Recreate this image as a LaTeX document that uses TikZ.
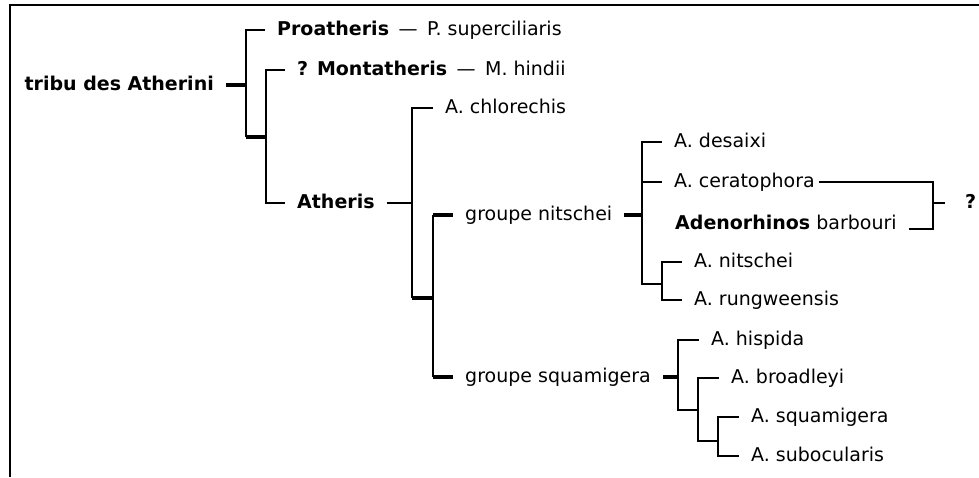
\documentclass[tikz,border=0pt]{standalone}
\usepackage{fontspec}
\setsansfont{DejaVu Sans}
\usetikzlibrary{positioning}

\begin{document}
\begin{tikzpicture}[
    x=1pt, y=-1pt,
    font=\sffamily\fontsize{19}{23}\selectfont,
    frameline/.style={draw=black, line width=2pt},
    branch/.style={draw=black, line width=1.5pt},
    stem/.style={draw=black, line width=4pt},
    taxon/.style={anchor=west, inner xsep=12pt, inner ysep=0pt, text height=13.9pt, text depth=3.8pt},
    genus/.style={taxon, font=\sffamily\bfseries\fontsize{19}{23}\selectfont}
]
    \useasboundingbox (0,0) rectangle (979,477);
    \draw[frameline] (10,477) -- (10,5) -- (979,5);

    % =========================================================================
    % ROOT: TRIBU DES ATHERINI
    % =========================================================================
    \node[genus, anchor=east] (tribu) at (226,85) {tribu des Atherini};
    \coordinate (root) at (246,85);
    \coordinate (rootlow) at (246,137);
    \coordinate (pair) at (266,137);

    \node[taxon] (proa) at (265,30) {\textbf{Proatheris}\enskip—\enskip P. superciliaris};
    \node[taxon] (mont) at (285,70) {\textbf{? Montatheris}\enskip—\enskip M. hindii};
    \node[genus] (athe) at (285,203) {Atheris};

    \draw[stem] (tribu.east) -- (root);
    \draw[branch] (root) |- (proa.west);
    \draw[branch] (root) -- (rootlow);
    \draw[stem] (rootlow) -- (pair);
    \draw[branch] (pair) |- (mont.west);
    \draw[branch] (pair) |- (athe.west);

    % =========================================================================
    % ATHERIS
    % =========================================================================
    \coordinate (athj) at (412,203);
    \coordinate (athlow) at (412,298);
    \coordinate (grpj) at (433,298);
    \coordinate (nitstub) at (433,215);
    \coordinate (squstub) at (433,377);

    \node[taxon] (chlo) at (433,108) {A. chlorechis};
    \node[taxon] (nits) at (453,215) {groupe nitschei};
    \node[taxon] (squa) at (453,377) {groupe squamigera};

    \draw[branch] (athe.east) -- (athj);
    \draw[branch] (athj) |- (chlo.west);
    \draw[branch] (athj) -- (athlow);
    \draw[stem] (athlow) -- (grpj);
    \draw[branch] (nitstub) -- (squstub);
    \draw[stem] (nitstub) -- (nits.west);
    \draw[stem] (squstub) -- (squa.west);

    % --- groupe nitschei ---
    \coordinate (nitj) at (642,215);
    \coordinate (rungj) at (662,284);
    \node[taxon] (desa) at (662,142) {A. desaixi};
    \node[taxon] (cera) at (662,182) {A. ceratophora};
    \node[taxon] (barb) at (663,224) {\textbf{Adenorhinos} barbouri};
    \node[taxon] (nitp) at (682,262) {A. nitschei};
    \node[taxon] (rung) at (682,300) {A. rungweensis};

    \draw[stem] (nits.east) -- (nitj);
    \foreach \from/\to in {nitj/desa.west, nitj/cera.west, nitj/rungj, rungj/nitp.west, rungj/rung.west} {
        \draw[branch] (\from) |- (\to);
    }

    % --- ceratophora + barbouri ---
    \coordinate (qx) at (933,203);
    \node[genus, inner xsep=20pt] (qmark) at (945,203) {?};
    \draw[branch, shorten <=-8pt] (cera.east) -| (qx);
    \draw[branch] (barb.base east) -| (qx);
    \draw[branch] (qx) -- (qmark.west);

    % --- groupe squamigera ---
    \coordinate (squj) at (678,377);
    \coordinate (broj) at (698,410);
    \coordinate (subj) at (718,441);
    \node[taxon] (hisp) at (699,340) {A. hispida};
    \node[taxon] (broa) at (719,378) {A. broadleyi};
    \node[taxon] (squm) at (739,417) {A. squamigera};
    \node[taxon] (subo) at (739,456) {A. subocularis};

    \draw[stem] (squa.east) -- (squj);
    \foreach \from/\to in {squj/hisp.west, squj/broj, broj/broa.west, broj/subj, subj/squm.west, subj/subo.west} {
        \draw[branch] (\from) |- (\to);
    }

\end{tikzpicture}
\end{document}
